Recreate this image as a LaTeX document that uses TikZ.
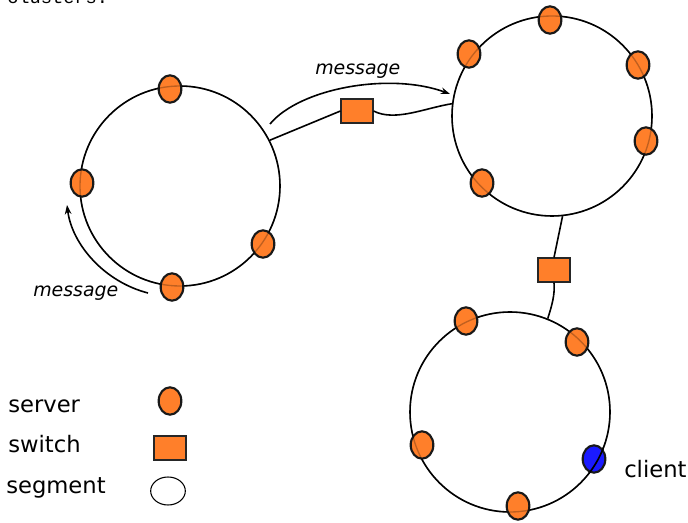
\documentclass[tikz,border=0pt]{standalone}
\usepackage{fontspec}
\setmainfont{DejaVu Sans}
\newfontfamily\monofam{Liberation Mono}
\usetikzlibrary{shapes.geometric,arrows.meta}
\definecolor{srvorange}{HTML}{FF7F2A}
\definecolor{clientblue}{HTML}{1A1AFF}
\begin{document}
\begin{tikzpicture}[x=0.75pt,y=-0.75pt,
  ring/.style={circle,draw,line width=1.2pt,minimum size=150pt,inner sep=0pt},
  server/.style={ellipse,draw=black!90,fill=srvorange,line width=1.6pt,minimum width=17pt,minimum height=20.5pt,inner sep=0pt},
  clientnode/.style={server,fill=clientblue},
  switchbox/.style={rectangle,draw=black!85,fill=srvorange,line width=0.8pt,minimum width=24pt,minimum height=18pt,inner sep=0pt},
  segleg/.style={ellipse,draw,line width=0.8pt,minimum width=26pt,minimum height=21pt,inner sep=0pt},
  conn/.style={line width=1.2pt},
  msgarrow/.style={line width=1.2pt,-{Stealth[length=7pt,width=5pt]}},
  lbl/.style={font=\fontsize{17}{20}\selectfont,anchor=base west,inner sep=0pt},
  msg/.style={font=\fontsize{14.2}{17}\selectfont\itshape,anchor=base west,inner sep=0pt}]
\useasboundingbox (0,0) rectangle (688,523);
\node[font=\monofam\fontsize{14}{16}\selectfont,anchor=base west,inner sep=0pt] (cap) at (7,4) {clusters.};
% rings
\node[ring] (r1) at (180,186) {};
\node[ring] (r2) at (552,116) {};
\node[ring] (r3) at (510,412) {};
% switches
\node[switchbox] (sw1) at (357,111) {};
\node[switchbox] (sw2) at (554,270) {};
% connectors
\draw[conn] (r1.27) -- (sw1.west);
\draw[conn] (sw1.east) .. controls (395,122) and (425,108) .. (r2.173);
\draw[conn] (r2.276) -- (sw2.north);
\draw[conn] (sw2.south) .. controls (555,295) and (552,305) .. (r3.68);
% message arrows
\coordinate (m1s) at (270,124);
\coordinate (m1e) at (450,94);
\draw[msgarrow] (m1s) .. controls (300,88) and (390,72) .. (m1e);
\node[msg] (m1l) at (315,75) {message};
\coordinate (m2s) at (148,293);
\coordinate (m2e) at (67,205);
\draw[msgarrow] (m2s) .. controls (105,282) and (72,245) .. (m2e);
\node[msg] (m2l) at (33,297) {message};
% servers ring 1
\node[server] (s11) at (170,89) {};
\node[server] (s12) at (82,183) {};
\node[server] (s13) at (263,244) {};
\node[server] (s14) at (172,287) {};
% servers ring 2
\node[server] (s21) at (550,20) {};
\node[server] (s22) at (469,54) {};
\node[server] (s23) at (638,65) {};
\node[server] (s24) at (646,141) {};
\node[server] (s25) at (482,183) {};
% servers ring 3
\node[server] (s31) at (466,321) {};
\node[server] (s32) at (577,342) {};
\node[server] (s33) at (422,445) {};
\node[server] (s34) at (518,506) {};
\node[clientnode] (c1) at (594,459) {};
% faint ring lines through servers
\draw[line width=1pt,black,opacity=0.25] (r1) circle[radius=100];
\draw[line width=1pt,black,opacity=0.25] (r2) circle[radius=100];
\draw[line width=1pt,black,opacity=0.25] (r3) circle[radius=100];
\begin{scope}
  \clip (c1.center) ellipse[x radius=13, y radius=16];
  \draw[line width=1.2pt,black] (r3) circle[radius=100];
\end{scope}
\node[lbl] (cl) at (624,477) {client};
% legend
\node[lbl] (lserver) at (8,412) {server};
\node[lbl] (lswitch) at (8,452) {switch};
\node[lbl] (lsegment) at (6,493) {segment};
\node[server] (legs) at (170,401) {};
\node[switchbox] (legsw) at (170,448) {};
\node[segleg] (legseg) at (168,491) {};
\end{tikzpicture}
\end{document}
